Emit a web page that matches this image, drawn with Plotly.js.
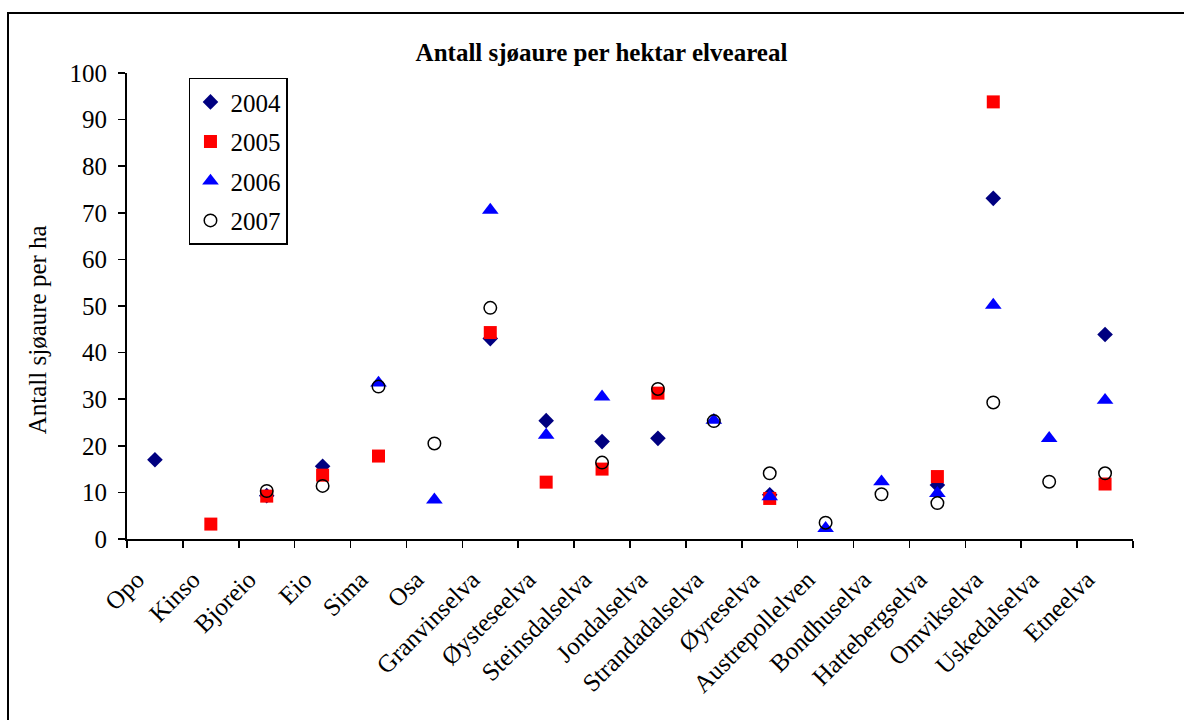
<!DOCTYPE html>
<html>
<head>
<meta charset="utf-8">
<script src="https://cdn.plot.ly/plotly-3.0.1.min.js"></script>
<style>
html,body{margin:0;padding:0;background:#fff;}
#wrap{position:relative;width:1184px;height:720px;overflow:hidden;}
#chart{position:absolute;left:0;top:0;width:1184px;height:720px;}
#frame{position:absolute;left:7px;top:12px;width:1200px;height:720px;border-top:2px solid #000;border-left:2px solid #000;pointer-events:none;}
</style>
</head>
<body>
<div id="wrap"><div id="chart"></div><div id="frame"></div></div>
<script>
const categories = ["Opo","Kinso","Bjoreio","Eio","Sima","Osa","Granvinselva","Øysteseelva","Steinsdalselva","Jondalselva","Strandadalselva","Øyreselva","Austrepollelven","Bondhuselva","Hattebergselva","Omvikselva","Uskedalselva","Etneelva"];
const v2004 = [17, null, 9.3, 15.6, null, null, 43, 25.4, 20.9, 21.6, null, 9.5, null, null, 11.6, 73.1, null, 43.9];
const v2005 = [null, 3.2, 9.2, 13.7, 17.8, null, 44.3, 12.2, 15, 31.3, null, 8.7, null, null, 13.4, 93.8, null, 11.8];
const v2006 = [null, null, null, null, 33.5, 8.4, 70.6, 22.3, 30.5, null, 25.5, 9.1, 2.3, 12.3, 9.8, 50.2, 21.6, 29.8];
const v2007 = [null, null, 10.3, 11.4, 32.7, 20.5, 49.6, null, 16.4, 32.2, 25.3, 14.1, 3.5, 9.6, 7.7, 29.3, 12.3, 14.1];
const seriesNames = ["2004","2005","2006","2007"];
const yTitle = "Antall sjøaure per ha";
const chartTitle = "Antall sjøaure per hektar elveareal";

const font = "Liberation Serif";
const FS = 25;
const traces = [
  {name: seriesNames[0], y: v2004, marker: {symbol: "diamond", size: 12, color: "#000080"}},
  {name: seriesNames[1], y: v2005, marker: {symbol: "square", size: 13, color: "#FF0000"}},
  {name: seriesNames[2], y: v2006, marker: {symbol: "triangle-up", size: 14.5, color: "#0000FF"}},
  {name: seriesNames[3], y: v2007, marker: {symbol: "circle-open", size: 12.5, color: "#000000", line: {width: 1.5, color: "#000"}}}
].map((t, i) => Object.assign({type: "scatter", mode: "markers", x: categories, legendgroup: "g" + i, cliponaxis: false}, t));

const layout = {
  width: 1184, height: 720,
  margin: {l: 127, r: 51, t: 73, b: 181},
  paper_bgcolor: "#fff", plot_bgcolor: "#fff",
  font: {family: font, size: FS, color: "#000"},
  showlegend: true,
  title: {text: "<b>" + chartTitle + "</b>", font: {family: font, size: 25, color: "#000"},
          x: 0.508, xanchor: "center", y: 0.928, yanchor: "middle", xref: "container", yref: "container"},
  xaxis: {
    type: "category", range: [-0.5, 17.5], tickson: "boundaries",
    showline: true, linecolor: "#000", linewidth: 2, mirror: false,
    ticks: "outside", ticklen: 7, tickwidth: 1.5, tickcolor: "#000",
    tickangle: -45, showgrid: false, zeroline: false,
    ticklabelshift: -18, ticklabelstandoff: 14,
    tickfont: {family: font, size: FS, color: "#000"}, fixedrange: true
  },
  yaxis: {
    range: [0, 100], dtick: 10, tick0: 0,
    showline: true, linecolor: "#000", linewidth: 2,
    ticks: "outside", ticklen: 7, tickwidth: 1.5, tickcolor: "#000",
    showgrid: false, zeroline: false, ticklabelstandoff: 6,
    tickfont: {family: font, size: FS, color: "#000"}
  },
  annotations: [{
    text: yTitle, textangle: -90, xref: "paper", yref: "paper",
    x: -0.0895, y: 0.45, xanchor: "center", yanchor: "middle", showarrow: false,
    font: {family: font, size: FS, color: "#000"}
  }],
  legend: {
    x: 0.0616, y: 0.99, xanchor: "left", yanchor: "top",
    bgcolor: "#fff", bordercolor: "#000", borderwidth: 1.5,
    font: {family: font, size: FS, color: "#000"},
    tracegroupgap: 4, itemwidth: 30
  }
};
Plotly.newPlot("chart", traces, layout, {staticPlot: true, displayModeBar: false});
</script>
</body>
</html>
